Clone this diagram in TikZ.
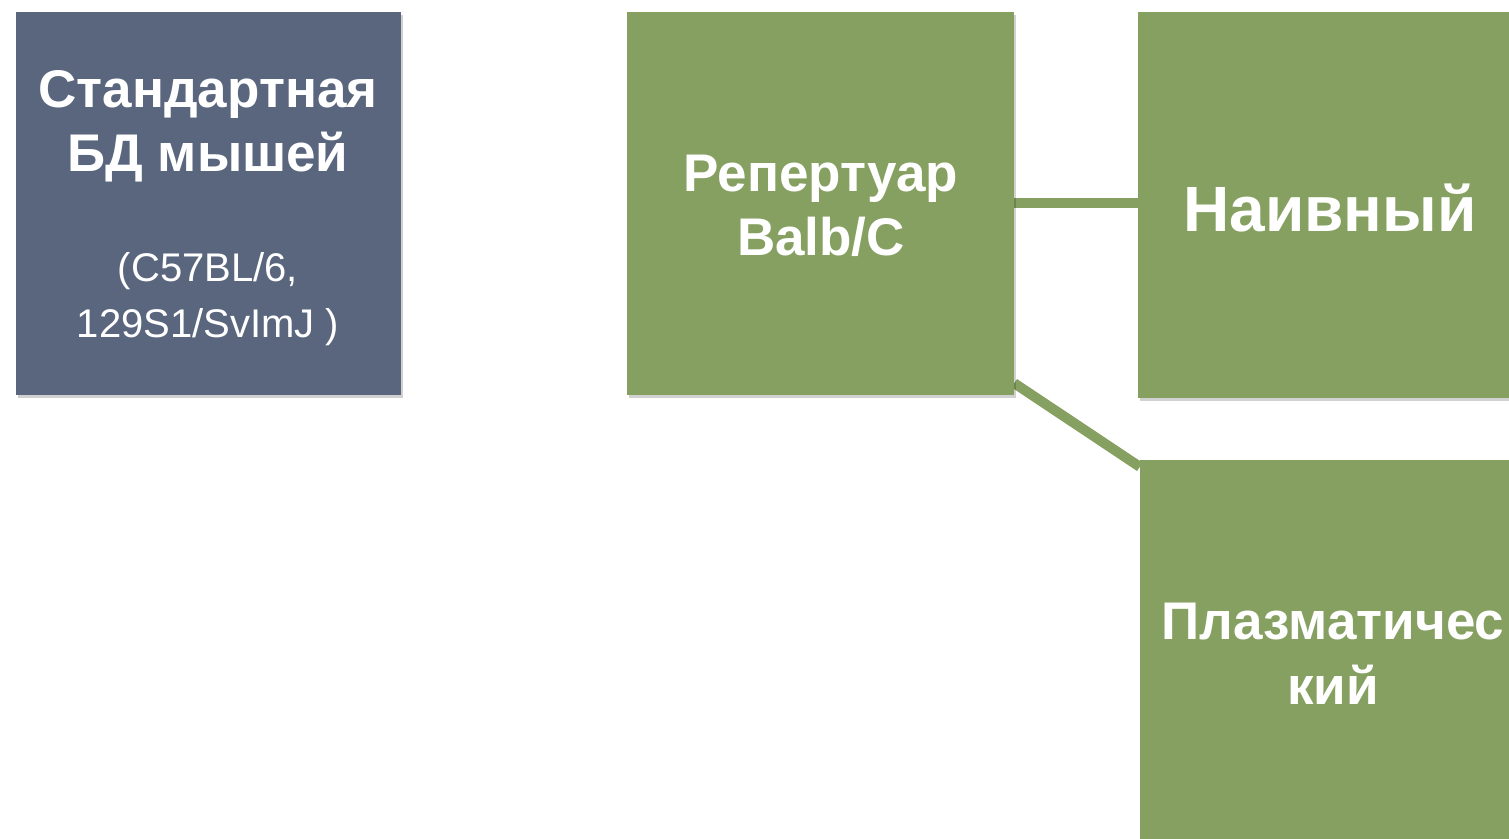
\documentclass[tikz,border=0pt]{standalone}
\usepackage{fontspec}
\setmainfont{Liberation Sans}
\usetikzlibrary{shadows,backgrounds,calc}
\definecolor{slate}{RGB}{90,102,126}
\definecolor{leaf}{RGB}{134,160,98}
\tikzset{
  x=1pt,y=1pt,
  box/.style={rectangle, inner sep=0pt, draw=none,
    drop shadow={shadow xshift=2pt, shadow yshift=-3pt, opacity=0.18, fill=black}},
  darkbox/.style={box, fill=slate},
  greenbox/.style={box, fill=leaf},
  title/.style={anchor=base, text=white, inner sep=0pt, font=\bfseries\fontsize{53}{64}\selectfont},
  bigtitle/.style={anchor=base, text=white, inner sep=0pt, font=\bfseries\fontsize{64}{76}\selectfont},
  sub/.style={anchor=base, text=white, inner sep=0pt, font=\fontsize{40}{56}\selectfont},
  link/.style={draw=leaf, line width=10pt}
}
\begin{document}
\begin{tikzpicture}
\useasboundingbox (0,0) rectangle (1509,838);
\clip (0,0) rectangle (1509,838);
\node[darkbox, minimum width=385, minimum height=383] (db) at (208.5,634.5) {};
\node[greenbox, minimum width=387, minimum height=383] (rep) at (820.5,634.5) {};
\node[greenbox, minimum width=382, minimum height=386] (naive) at (1329,633) {};
\node[greenbox, minimum width=380, minimum height=390] (plasma) at (1330,183) {};
\begin{scope}[on background layer]
\draw[link] (rep.east) -- (rep.east -| naive.west);
\draw[link] ($(rep.south east)+(0,12)$) -- ($(plasma.north west)+(0,-7)$);
\end{scope}
\node[title] (dbA) at (208,730) {Стандартная};
\node[title] (dbB) at (208,666) {БД мышей};
\node[sub] (dbC) at (208,556) {(C57BL/6,};
\node[sub] (dbD) at (208,500) {129S1/SvImJ )};
\node[title] (repA) at (821,646) {Репертуар};
\node[title] (repB) at (821,582) {Balb/C};
\node[bigtitle] (naiveA) at (1330,606) {Наивный};
\node[title] (plA) at (1333,198) {Плазматичес};
\node[title] (plB) at (1333,133) {кий};
\end{tikzpicture}
\end{document}
